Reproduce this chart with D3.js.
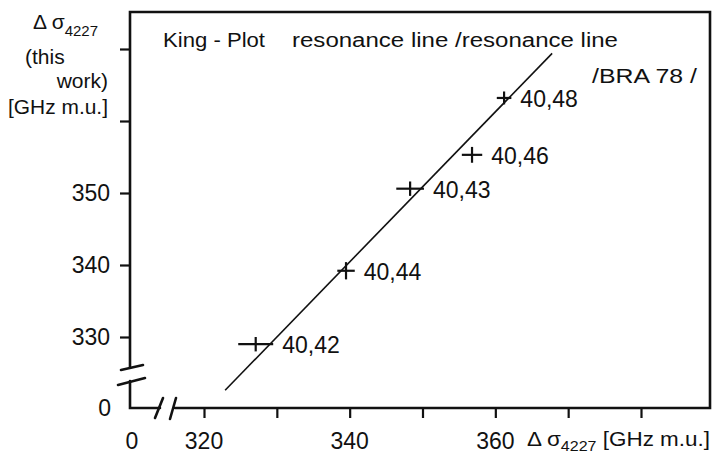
<!DOCTYPE html>
<html>
<head>
<meta charset="utf-8">
<script src="https://cdn.jsdelivr.net/npm/d3@7"></script>
<style>
  body { margin: 0; background: #fff; }
  svg text { font-family: "Liberation Sans", Arial, sans-serif; fill: #111; }
  .tick line { stroke: #111; stroke-width: 2.2px; }
</style>
</head>
<body>
<div id="chart"></div>
<script>
var svgWidth = 718;
var svgHeight = 455;

// data
var pointLabels = ["40,42", "40,44", "40,43", "40,46", "40,48"];
var xBra = [327.1, 339.5, 348.3, 356.8, 361.2];    // Δσ4227 /BRA 78/
var yThis = [329.0, 339.2, 350.6, 355.3, 363.2];   // Δσ4227 this work
var xErr = [2.4, 1.2, 1.9, 1.4, 1.0];
var yErr = [1.0, 1.2, 1.0, 1.1, 0.9];
var fitX = [322.9, 367.8];
var fitY = [322.6, 369.4];

var xTicks = [320, 330, 340, 350, 360, 370, 380];
var xTickLabels = [320, 340, 360];
var yTicks = [330, 340, 350, 360, 370];
var yTickLabels = [330, 340, 350];

// frame of the plot
var box = { left: 130, top: 12, right: 710, bottom: 408 };

var svg = d3.select("#chart")
  .append("svg")
  .attr("width", svgWidth)
  .attr("height", svgHeight);

var xScale = d3.scaleLinear().domain([320, 380]).range([204, 641]);
var yScale = d3.scaleLinear().domain([330, 370]).range([337, 49]);

// ticks
var bottomAxis = d3.axisBottom(xScale)
  .tickValues(xTicks)
  .tickSize(10)
  .tickSizeOuter(0)
  .tickFormat(function(d) { return ""; });

var leftAxis = d3.axisLeft(yScale)
  .tickValues(yTicks)
  .tickSize(10)
  .tickSizeOuter(0)
  .tickFormat(function(d) { return ""; });

var xAxis = svg.append("g")
  .attr("transform", `translate(0, ${box.bottom})`)
  .call(bottomAxis);
xAxis.select(".domain").remove();

var yAxis = svg.append("g")
  .attr("transform", `translate(${box.left}, 0)`)
  .call(leftAxis);
yAxis.select(".domain").remove();

// tick labels
svg.selectAll(".xlab")
  .data(xTickLabels)
  .enter()
  .append("text")
  .attr("x", d => xScale(d))
  .attr("y", 449)
  .attr("text-anchor", "middle")
  .attr("font-size", "23px")
  .text(d => d);

svg.selectAll(".ylab")
  .data(yTickLabels)
  .enter()
  .append("text")
  .attr("x", 110)
  .attr("y", d => yScale(d) + 8)
  .attr("text-anchor", "end")
  .attr("font-size", "23px")
  .text(d => d);

// the broken-off zeros
svg.append("text").attr("x", 132).attr("y", 449)
  .attr("text-anchor", "middle").attr("font-size", "23px").text("0");
svg.append("text").attr("x", 111).attr("y", 416)
  .attr("text-anchor", "end").attr("font-size", "23px").text("0");

// frame with axis breaks
var axisLine = "#111";
var frame = svg.append("g")
  .attr("fill", "none")
  .attr("stroke", axisLine)
  .attr("stroke-width", 2.6)
  .attr("stroke-linecap", "round");

frame.append("path")
  .attr("d", `M${box.left},367 L${box.left},${box.top} L${box.right},${box.top} L${box.right},${box.bottom} L175,${box.bottom}`);
frame.append("path")
  .attr("d", `M${box.left},381 L${box.left},${box.bottom} L160,${box.bottom}`);

// break marks
frame.append("path").attr("d", "M121,370 L143,365");
frame.append("path").attr("d", "M118,385 L145,378");
frame.append("path").attr("d", "M155,418 L163,398");
frame.append("path").attr("d", "M170,419 L176,398");

// fitted line
var line = d3.line()
  .x(d => xScale(d[0]))
  .y(d => yScale(d[1]));

svg.append("path")
  .datum(d3.zip(fitX, fitY))
  .attr("d", line)
  .attr("fill", "none")
  .attr("stroke", "#111")
  .attr("stroke-width", 1.6);

// data points with error bars
var pts = d3.range(pointLabels.length);

var crosses = svg.append("g")
  .attr("stroke", "#111")
  .attr("stroke-width", 2.2);

crosses.selectAll(".hbar")
  .data(pts)
  .enter()
  .append("line")
  .attr("x1", i => xScale(xBra[i] - xErr[i]))
  .attr("x2", i => xScale(xBra[i] + xErr[i]))
  .attr("y1", i => yScale(yThis[i]))
  .attr("y2", i => yScale(yThis[i]));

crosses.selectAll(".vbar")
  .data(pts)
  .enter()
  .append("line")
  .attr("x1", i => xScale(xBra[i]))
  .attr("x2", i => xScale(xBra[i]))
  .attr("y1", i => yScale(yThis[i] - yErr[i]))
  .attr("y2", i => yScale(yThis[i] + yErr[i]));

svg.selectAll(".plab")
  .data(pts)
  .enter()
  .append("text")
  .attr("x", i => xScale(xBra[i] + xErr[i]) + 9)
  .attr("y", i => yScale(yThis[i]) + 9)
  .attr("font-size", "23px")
  .text(i => pointLabels[i]);

// titles inside the frame
svg.append("text").attr("x", 163).attr("y", 47)
  .attr("font-size", "20px")
  .attr("textLength", 102).attr("lengthAdjust", "spacingAndGlyphs")
  .text("King - Plot");
svg.append("text").attr("x", 292).attr("y", 47)
  .attr("font-size", "20px")
  .attr("textLength", 326).attr("lengthAdjust", "spacingAndGlyphs")
  .text("resonance line /resonance line");
svg.append("text").attr("x", 592).attr("y", 83)
  .attr("font-size", "20px")
  .attr("textLength", 105).attr("lengthAdjust", "spacingAndGlyphs")
  .text("/BRA 78 /");

// y axis title
var yTitle = svg.append("g").attr("font-size", "21px");
var t1 = yTitle.append("text").attr("x", 33).attr("y", 29);
t1.append("tspan").text("Δ σ");
t1.append("tspan").attr("font-size", "15px").attr("dy", 7).text("4227");
yTitle.append("text").attr("x", 25).attr("y", 64).text("(this");
yTitle.append("text").attr("x", 108).attr("y", 88).attr("text-anchor", "end").text("work)");
yTitle.append("text").attr("x", 108).attr("y", 114).attr("text-anchor", "end")
  .attr("textLength", 100).attr("lengthAdjust", "spacingAndGlyphs").text("[GHz m.u.]");

// x axis title
var xTitle = svg.append("text").attr("x", 527).attr("y", 446)
  .attr("font-size", "21px")
  .attr("textLength", 183).attr("lengthAdjust", "spacingAndGlyphs");
xTitle.append("tspan").text("Δ σ");
xTitle.append("tspan").attr("font-size", "15px").attr("dy", 5).text("4227");
xTitle.append("tspan").attr("dy", -5).text(" [GHz m.u.]");
</script>
</body>
</html>
